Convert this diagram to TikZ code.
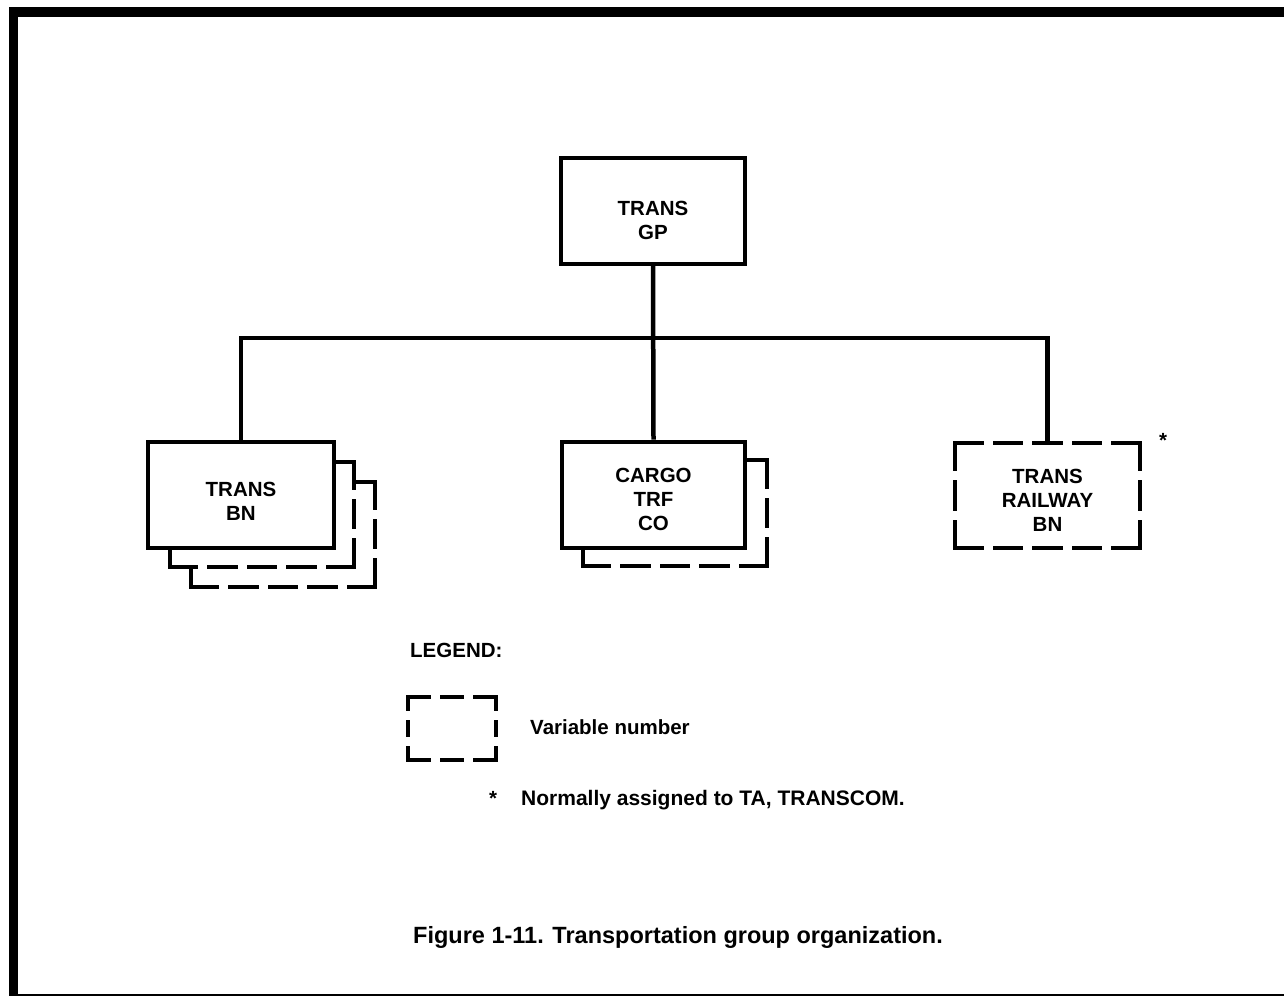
\documentclass[tikz,border=0pt]{standalone}
\usepackage{fontspec}
\setmainfont{Liberation Sans}
\begin{document}
\begin{tikzpicture}[x=1pt,y=-1pt,
  unitbox/.style={line width=4pt,minimum width=184pt,minimum height=106pt,inner sep=0pt},
  unittext/.style={align=center,inner sep=0pt,font=\bfseries\fontsize{20.5}{24}\selectfont},
  edge/.style={line width=4pt,line cap=rect},
  dsh/.style={line width=4pt,line cap=rect,dash pattern=on #1pt off 13pt},
  wire/.style={line width=4.5pt},
  label/.style={font=\bfseries\fontsize{20.5}{24}\selectfont,inner sep=0pt}]
  % page frame
  \useasboundingbox (0,0) rectangle (1284,996);
  \fill[white] (0,0) rectangle (1284,996);
  \fill[black] (9,7) rectangle (1284,16.5);
  \fill[black] (9,7) rectangle (18,995);
  \draw[line width=2pt] (9,994.5) -- (1284,994.5);

  % unit boxes
  \node[unitbox,draw] (gp) at (653,210.5) {};
  \node[unitbox,draw,minimum width=186pt] (bn) at (241,494.5) {};
  \node[unitbox,draw,minimum width=183pt] (cargo) at (653.5,494.5) {};
  \node[unitbox,outer sep=0pt,minimum width=185pt,minimum height=105pt] (rail) at (1047.5,495.5) {};

  % unit names
  \node[unittext] (gptext) at ([yshift=-9.5pt]gp.center) {TRANS\\GP};
  \node[unittext] (bntext) at ([yshift=-7pt]bn.center) {TRANS\\BN};
  \node[unittext] (cargotext) at ([yshift=-5pt]cargo.center) {CARGO\\TRF\\CO};
  \node[unittext] (railtext) at ([yshift=-5pt]rail.center) {TRANS\\RAILWAY\\BN};
  \node[label] (star) at (1163,440) {*};

  % dashed outline of the railway battalion
  \draw[dsh=26.6] (rail.north west) -- (rail.north east);
  \draw[dsh=26.6] (rail.south west) -- (rail.south east);
  \draw[dsh=26.3] (rail.north west) -- (rail.south west);
  \draw[dsh=26.3] (rail.north east) -- (rail.south east);

  % stacked outlines for variable-number units
  \draw[edge] (bn.east |- 0,462) -- (354,462);
  \draw[dsh=26.2] (354,462) -- (354,566.5);
  \draw[dsh=26.4] (354,566.5) -- (170,566.5);
  \draw[edge] (170,566.5) -- (bn.south -| 170,0);
  \draw[edge] (354,482) -- (375,482);
  \draw[dsh=26.2] (375,482) -- (375,586.5);
  \draw[dsh=26.4] (375,586.5) -- (191,586.5);
  \draw[edge] (191,586.5) -- (191,566.5);
  \draw[edge] (cargo.east |- 0,460) -- (767,460);
  \draw[dsh=26.7] (767,460) -- (767,566);
  \draw[dsh=26.4] (767,566) -- (583,566);
  \draw[edge] (583,566) -- (cargo.south -| 583,0);

  % connectors
  \coordinate (bus) at (653,338);
  \draw[wire] (gp.south) -- (cargo.north);
  \draw[wire] (bn.north) |- (bus) -| (rail.north);

  % legend
  \node[label,anchor=west] (legend) at (410,650) {LEGEND:};
  \draw[dsh=20.7] (408,697) -- (496,697);
  \draw[dsh=20.7] (408,760) -- (496,760);
  \draw[dsh=12.3] (408,697) -- (408,760);
  \draw[dsh=12.3] (496,697) -- (496,760);
  \node[label,anchor=west] (varnum) at (530,727) {Variable number};
  \node[label] (notestar) at (493,798) {*};
  \node[label,anchor=west,font=\bfseries\fontsize{21}{24}\selectfont] (note) at (521,800) {Normally assigned to TA, TRANSCOM.};

  % caption
  \node[font=\bfseries\fontsize{23.5}{28}\selectfont,inner sep=0pt] (caption) at (678,937)
    {Figure 1-11. Transportation group organization.};
\end{tikzpicture}
\end{document}
